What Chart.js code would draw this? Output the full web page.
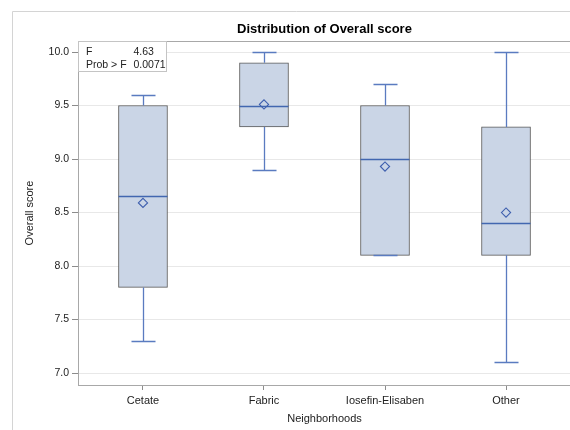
<!DOCTYPE html>
<html>
<head>
<meta charset="utf-8">
<script src="https://cdn.jsdelivr.net/npm/chart.js@4"></script>
<style>
  html, body { margin: 0; padding: 0; background: #fff; overflow: hidden; }
  #wrap { width: 580px; height: 430px; }
</style>
</head>
<body>
<div id="wrap"><canvas id="c" width="580" height="430"></canvas></div>
<script>
// Overall score by neighborhood: five-number summaries and means
const categories = ['Cetate', 'Fabric', 'Iosefin-Elisaben', 'Other'];
const whiskerLow  = [7.3, 8.9, 8.1, 7.1];
const q1          = [7.8, 9.3, 8.1, 8.1];
const medians     = [8.65, 9.5, 9.0, 8.4];
const q3          = [9.5, 9.9, 9.5, 9.3];
const whiskerHigh = [9.6, 10.0, 9.7, 10.0];
const means       = [8.59, 9.51, 8.93, 8.50];
const yTicks      = [7.0, 7.5, 8.0, 8.5, 9.0, 9.5, 10.0];
const fStat = '4.63';
const pValue = '0.0071';

const FONT = "'Liberation Sans', Arial, sans-serif";
const BOX_FILL = '#cad5e6';
const BOX_EDGE = '#595959';
const MEDIAN_COLOR = '#4267b0';
const WHISKER_COLOR = '#5a7bc0';
const MEAN_COLOR = '#3e5fae';

// whiskers, caps and median lines, placed with the chart's own scales
const boxDecor = {
  id: 'boxDecor',
  afterDatasetDraw(chart, args) {
    if (args.index !== 1) return;
    const { ctx, scales: { x, y } } = chart;
    ctx.save();
    ctx.lineWidth = 1.3;
    ctx.strokeStyle = WHISKER_COLOR;
    categories.forEach((c, i) => {
      const cx = Math.round(x.getPixelForValue(i)) + 0.5;
      const capHalf = 12;
      const segs = [[q3[i], whiskerHigh[i]], [q1[i], whiskerLow[i]]];
      segs.forEach(([from, to]) => {
        const y0 = y.getPixelForValue(from);
        const y1 = Math.round(y.getPixelForValue(to)) + 0.5;
        ctx.beginPath();
        ctx.moveTo(cx, y0);
        ctx.lineTo(cx, y1);
        ctx.moveTo(cx - capHalf, y1);
        ctx.lineTo(cx + capHalf, y1);
        ctx.stroke();
      });
    });
    const meta = chart.getDatasetMeta(1);
    ctx.strokeStyle = MEDIAN_COLOR;
    ctx.lineWidth = 1.4;
    meta.data.forEach((bar, i) => {
      const half = bar.width / 2;
      const my = Math.round(y.getPixelForValue(medians[i])) + 0.5;
      ctx.beginPath();
      ctx.moveTo(bar.x - half, my);
      ctx.lineTo(bar.x + half, my);
      ctx.stroke();
    });
    ctx.restore();
  }
};

// outer frame, plot frame, title and the F-test inset
const frame = {
  id: 'frame',
  beforeDraw(chart) {
    const { ctx } = chart;
    ctx.save();
    ctx.fillStyle = '#fff';
    ctx.fillRect(0, 0, chart.width, chart.height);
    ctx.strokeStyle = '#d4d4d4';
    ctx.lineWidth = 1;
    ctx.beginPath();
    ctx.moveTo(12.5, chart.height + 2);
    ctx.lineTo(12.5, 11.5);
    ctx.lineTo(chart.width + 2, 11.5);
    ctx.stroke();
    ctx.restore();
  },
  afterDraw(chart) {
    const { ctx, chartArea: a } = chart;
    ctx.save();
    ctx.strokeStyle = '#a8a8a8';
    ctx.lineWidth = 1;
    ctx.strokeRect(Math.round(a.left) + 0.5, Math.round(a.top) + 0.5,
                   Math.round(a.right - a.left), Math.round(a.bottom - a.top));

    ctx.fillStyle = '#000';
    ctx.font = 'bold 13px ' + FONT;
    ctx.textAlign = 'center';
    ctx.textBaseline = 'middle';
    ctx.fillText('Distribution of Overall score', (a.left + a.right) / 2, 29);

    const bx = Math.round(a.left) + 0.5, by = Math.round(a.top) + 0.5;
    ctx.fillStyle = '#fff';
    ctx.fillRect(bx, by, 88, 30);
    ctx.strokeStyle = '#c4c4c4';
    ctx.strokeRect(bx, by, 88, 30);
    ctx.fillStyle = '#222';
    ctx.font = '10.5px ' + FONT;
    ctx.textAlign = 'left';
    ctx.fillText('F', bx + 7.5, by + 11);
    ctx.fillText(fStat, bx + 55, by + 11);
    ctx.fillText('Prob > F', bx + 7.5, by + 24);
    ctx.fillText(pValue, bx + 55, by + 24);
    ctx.restore();
  }
};

new Chart(document.getElementById('c'), {
  type: 'bar',
  data: {
    datasets: [
      {
        type: 'scatter',
        label: 'Mean',
        order: 1,
        data: means.map((v, i) => ({ x: i, y: v })),
        pointStyle: 'rectRot',
        pointRadius: 4.6,
        pointBorderWidth: 1.1,
        pointBorderColor: MEAN_COLOR,
        pointBackgroundColor: 'rgba(0,0,0,0)'
      },
      {
        type: 'bar',
        label: 'Overall score',
        order: 2,
        data: categories.map((c, i) => ({ x: i, y: [q1[i], q3[i]] })),
        backgroundColor: BOX_FILL,
        borderColor: BOX_EDGE,
        borderWidth: 1,
        borderSkipped: false,
        barThickness: 49
      }
    ]
  },
  options: {
    responsive: false,
    animation: false,
    devicePixelRatio: 1,
    layout: { padding: { top: 41, right: 9, left: 0, bottom: 0 } },
    plugins: {
      legend: { display: false },
      title: { display: false },
      tooltip: { enabled: false }
    },
    scales: {
      x: {
        type: 'linear',
        offset: false,
        min: -0.537,
        max: 3.537,
        afterBuildTicks: s => { s.ticks = categories.map((c, i) => ({ value: i })); },
        afterFit: s => { s.height = 45; },
        ticks: {
          callback: v => categories[v],
          color: '#222',
          font: { family: FONT, size: 11 },
          padding: 4,
          maxRotation: 0,
          autoSkip: false
        },
        grid: { offset: false, drawOnChartArea: false, drawTicks: true, tickLength: 5, tickColor: '#8c8c8c', tickWidth: 1 },
        border: { display: false },
        title: {
          display: true,
          text: 'Neighborhoods',
          color: '#222',
          font: { family: FONT, size: 11 },
          padding: { top: 0, bottom: 4 }
        }
      },
      y: {
        type: 'linear',
        min: 6.888,
        max: 10.103,
        afterBuildTicks: s => { s.ticks = yTicks.map(v => ({ value: v })); },
        afterFit: s => { s.width = 78; },
        ticks: {
          callback: v => v.toFixed(1),
          color: '#222',
          font: { family: FONT, size: 10.5 },
          padding: 3
        },
        grid: { color: '#e8e8e8', lineWidth: 1, drawTicks: true, tickLength: 6, tickColor: '#8c8c8c' },
        border: { display: false },
        title: {
          display: true,
          text: 'Overall score',
          color: '#222',
          font: { family: FONT, size: 11 },
          padding: { top: 23, bottom: 0 }
        }
      }
    }
  },
  plugins: [boxDecor, frame]
});
</script>
</body>
</html>
